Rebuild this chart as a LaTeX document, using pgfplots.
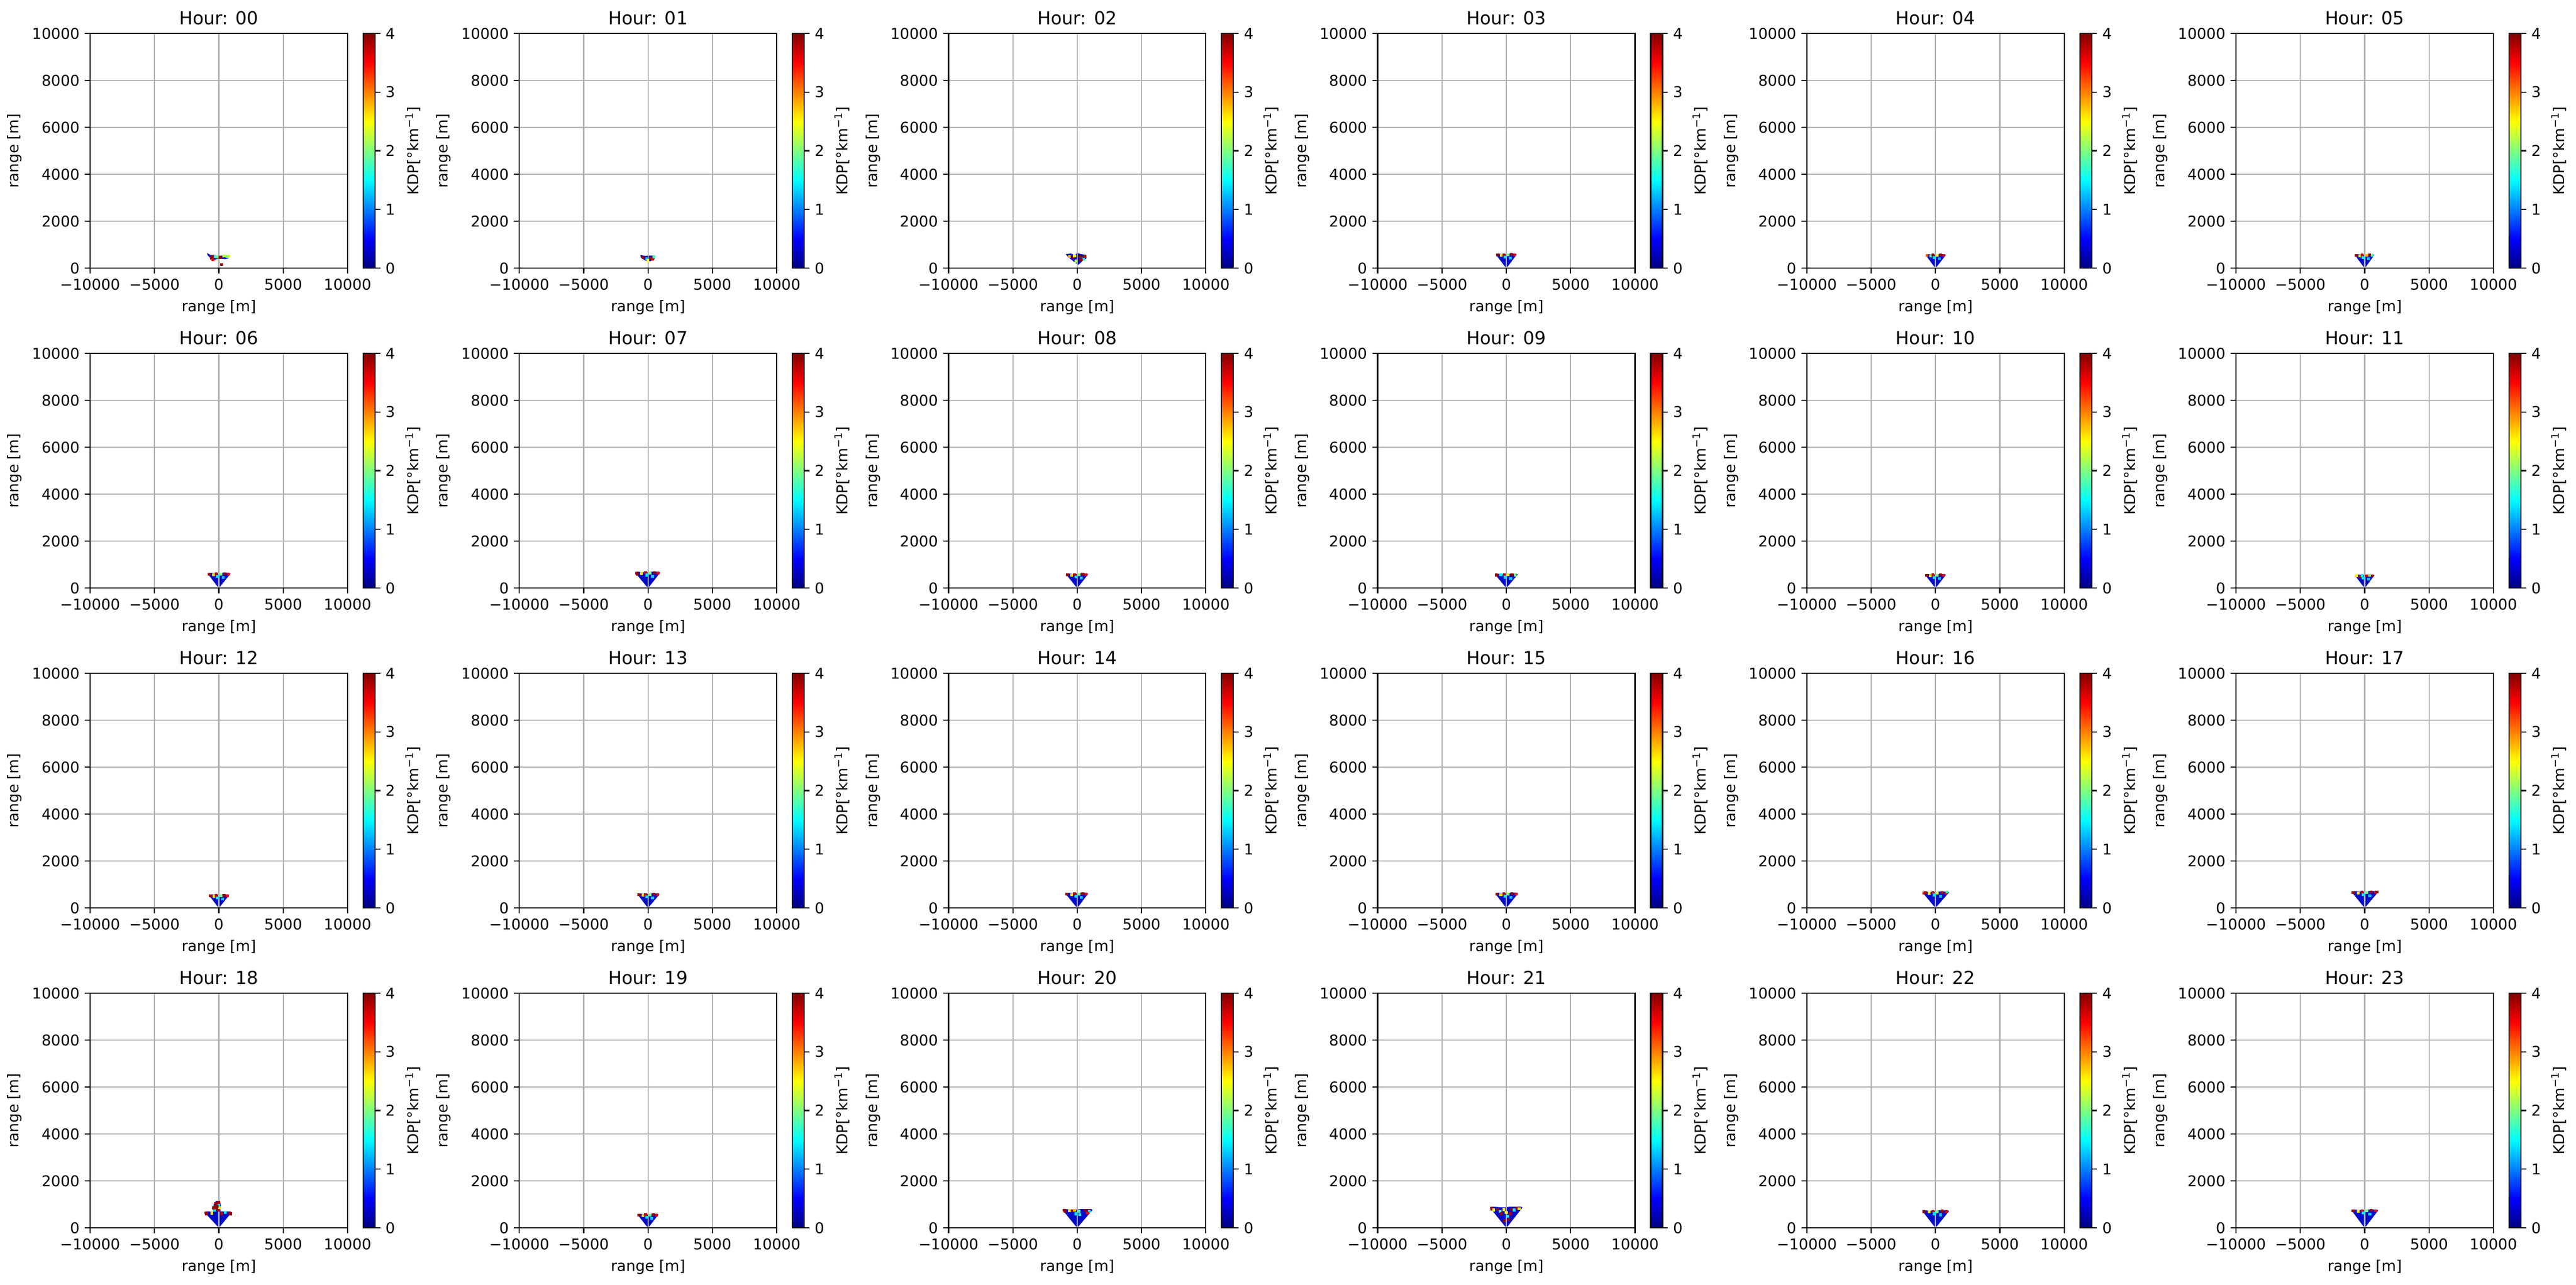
\documentclass[border=0pt]{standalone}
\usepackage{fontspec}
\setmainfont{DejaVu Sans}
\usepackage{pgfplots}
\pgfplotsset{compat=1.18}
\definecolor{mplgrid}{HTML}{B0B0B0}
\definecolor{kdpblue}{RGB}{0,12,200}
\pgfplotsset{
  every axis/.append style={
    /pgf/number format/assume math mode=true,
    tick label style={font=\fontsize{10}{12}\selectfont},
    label style={font=\fontsize{10}{12}\selectfont},
    tick align=outside,
    major tick length=3.5bp,
    tick style={black, line width=0.8bp},
    axis line style={line width=0.8bp},
  },
  kdp/.style={
    anchor=north west,
    scale only axis,
    width=172.36pt, height=157.19pt,
    xmin=-10000, xmax=10000, ymin=0, ymax=10000,
    scaled ticks=false,
    xtick={-10000,-5000,0,5000,10000},
    xticklabels={−10000,−5000,0,5000,10000},
    ytick={0,2000,4000,6000,8000,10000},
    yticklabels={0,2000,4000,6000,8000,10000},
    xtick pos=bottom, ytick pos=left,
    grid=major,
    grid style={color=mplgrid, line width=0.8bp},
    axis on top,
    every axis title/.style={font=\fontsize{12}{14}\selectfont, at={(0.5,1)}, anchor=base, yshift=6bp},
    xlabel={range [m]}, ylabel={range [m]},
    colormap/jet,
    point meta min=0, point meta max=4,
    colorbar,
    colorbar shift/.style={},
    colorbar style={
      at={(parent axis.north east)}, anchor=north west, xshift=10.48pt,
      scale only axis,
      width=7.95pt, height=157.19pt,
      title={}, xlabel={},
      ytick={0,1,2,3,4}, yticklabels={0,1,2,3,4},
      ytick pos=right, yticklabel pos=right,
      ylabel={KDP[°km\textsuperscript{−1}]},
    },
  },
}
\newcommand{\panel}[5]{%
\begin{axis}[kdp, at={({(167+795.2*#1)*0.36135pt},{-(62+593*#2)*0.36135pt})}, title={Hour: #3}]
\addplot[fill=kdpblue, draw=none, forget plot] coordinates {#4};
\addplot[scatter, only marks, mark=square*, mark size=0.75pt, point meta=explicit,
  scatter/use mapped color={draw=mapped color, fill=mapped color}, forget plot] coordinates {#5};
\end{axis}}
\begin{document}
\begin{tikzpicture}
\useasboundingbox (0,0) rectangle (1724.72pt,-860.74pt);
% row 0
\panel{0}{0}{00}{(-900,640) (-650,560) (-300,560) (0,520) (300,540) (500,560) (800,500) (750,420) (500,380) (200,400) (-200,380) (-450,330) (-700,450) (-880,560)}
{(-600,420) [3.8] (-450,360) [3.6] (-300,500) [1.5] (-150,480) [2.0] (100,460) [3.9] (400,520) [2.2] (650,500) [1.8] (750,520) [2.4] (200,150) [3.9] (-500,480) [3.9]}
\panel{1}{0}{01}{(-600,560) (-200,520) (200,540) (550,520) (500,380) (200,300) (0,280) (-300,350) (-550,450)}
{(-400,450) [3.9] (-100,400) [1.3] (200,420) [3.9] (350,380) [3.7] (0,320) [2.5] (450,480) [1.8]}
\panel{2}{0}{02}{(-880,600) (-500,620) (-200,560) (0,640) (300,600) (700,560) (730,420) (400,300) (100,140) (-200,250) (-500,380) (-850,560)}
{(-600,500) [2.8] (-300,450) [3.9] (-200,520) [2.5] (200,500) [3.9] (400,420) [3.9] (600,500) [3.8] (500,380) [1.5] (300,350) [3.9] (-100,300) [2.2]}
\panel{3}{0}{03}{(-800,570) (-650,620) (-200,590) (0,600) (300,620) (700,620) (800,580) (100,60) (0,40) (-100,60)}
{(-700,560) [3.9] (-400,540) [2.6] (-200,570) [3.8] (-100,470) [1.4] (150,560) [2.0] (400,580) [3.9] (650,560) [3.6] (300,420) [1.3]}
\panel{4}{0}{04}{(-750,550) (-600,600) (-200,570) (0,580) (300,600) (700,600) (800,560) (100,60) (0,40) (-100,60)}
{(-650,540) [3.2] (-380,520) [1.8] (-200,550) [3.9] (-100,450) [1.4] (150,540) [2.5] (400,560) [3.9] (650,540) [3.6] (300,400) [1.2]}
\panel{5}{0}{05}{(-750,550) (-600,600) (-200,570) (0,580) (300,600) (650,600) (750,560) (100,60) (0,40) (-100,60)}
{(-650,540) [3.9] (-380,520) [2.2] (-200,550) [3.6] (-100,450) [1.5] (150,540) [2.8] (380,560) [3.9] (600,540) [1.8] (280,400) [1.3]}
% row 1
\panel{0}{1}{06}{(-850,600) (-700,650) (-200,620) (0,630) (300,650) (800,650) (900,610) (100,60) (0,40) (-100,60)}
{(-750,590) [3.9] (-420,570) [2.6] (-200,600) [3.8] (-100,500) [1.4] (150,590) [2.0] (450,610) [3.9] (750,590) [3.6] (350,450) [1.3]}
\panel{1}{1}{07}{(-1000,650) (-850,700) (-200,670) (0,680) (300,700) (850,700) (950,660) (100,60) (0,40) (-100,60)}
{(-900,640) [3.9] (-850,600) [3.9] (-500,620) [2.6] (-200,650) [3.8] (-100,550) [1.4] (150,640) [2.0] (480,660) [3.9] (800,640) [3.6] (350,500) [1.3]}
\panel{2}{1}{08}{(-850,570) (-700,620) (-200,590) (0,600) (300,620) (750,620) (850,580) (100,60) (0,40) (-100,60)}
{(-750,560) [3.9] (-420,540) [2.6] (-200,570) [3.8] (-100,470) [1.4] (150,560) [2.0] (420,580) [3.9] (700,560) [3.6] (330,420) [1.3]}
\panel{3}{1}{09}{(-850,560) (-700,610) (-200,580) (0,590) (300,610) (780,610) (880,570) (100,60) (0,40) (-100,60)}
{(-780,570) [3.9] (-760,540) [3.9] (-420,560) [1.5] (-150,560) [3.8] (-100,460) [1.4] (150,560) [2.6] (440,570) [3.9] (700,550) [2.0] (330,410) [1.3]}
\panel{4}{1}{10}{(-800,550) (-650,600) (-200,570) (0,580) (300,600) (700,600) (800,560) (100,60) (0,40) (-100,60)}
{(-700,540) [3.9] (-400,520) [2.6] (-200,550) [3.8] (-100,450) [1.4] (150,540) [2.0] (400,560) [3.9] (650,540) [3.6] (300,400) [1.3]}
\panel{5}{1}{11}{(-750,530) (-600,580) (-200,550) (0,560) (300,580) (650,580) (750,540) (100,60) (0,40) (-100,60)}
{(-650,520) [2.6] (-380,500) [3.9] (-200,530) [1.5] (-100,430) [1.4] (150,520) [3.8] (380,540) [2.0] (600,520) [3.9] (280,380) [1.3]}
% row 2
\panel{0}{2}{12}{(-750,530) (-600,580) (-200,550) (0,560) (300,580) (700,580) (800,540) (100,60) (0,40) (-100,60)}
{(-650,520) [3.9] (-380,500) [2.6] (-200,530) [3.8] (-100,430) [1.4] (150,520) [2.0] (400,540) [3.9] (650,520) [3.6] (300,380) [1.3]}
\panel{1}{2}{13}{(-800,570) (-650,620) (-200,590) (0,600) (300,620) (800,620) (900,580) (100,60) (0,40) (-100,60)}
{(-700,560) [3.9] (-400,540) [2.6] (-200,570) [3.8] (-100,470) [1.4] (150,560) [2.0] (450,580) [3.9] (750,560) [3.6] (350,420) [1.3]}
\panel{2}{2}{14}{(-900,600) (-750,650) (-200,620) (0,630) (300,650) (750,650) (850,610) (100,60) (0,40) (-100,60)}
{(-800,590) [3.9] (-450,570) [2.6] (-200,600) [3.8] (-100,500) [1.4] (150,590) [2.0] (420,610) [3.9] (700,590) [3.6] (330,450) [1.3]}
\panel{3}{2}{15}{(-850,600) (-700,650) (-200,620) (0,630) (300,650) (800,650) (900,610) (100,60) (0,40) (-100,60)}
{(-750,590) [3.9] (-420,570) [2.6] (-200,600) [3.8] (-100,500) [1.4] (150,590) [2.0] (450,610) [3.9] (750,590) [3.6] (350,450) [1.3]}
\panel{4}{2}{16}{(-1000,650) (-850,700) (-200,670) (0,680) (300,700) (950,700) (1050,660) (100,60) (0,40) (-100,60)}
{(-900,640) [3.6] (-800,660) [3.9] (-500,620) [2.6] (-200,650) [3.8] (-100,550) [1.4] (150,640) [2.4] (500,660) [3.9] (800,640) [3.6] (900,670) [1.8] (400,500) [1.3]}
\panel{5}{2}{17}{(-1000,670) (-850,720) (-200,690) (0,700) (300,720) (950,720) (1050,680) (100,60) (0,40) (-100,60)}
{(-900,660) [3.9] (-500,640) [2.6] (-200,670) [3.8] (-100,570) [1.4] (150,660) [2.0] (500,680) [3.9] (850,660) [3.6] (950,680) [3.9] (400,520) [1.3]}
% row 3
\panel{0}{3}{18}{(-1100,650) (-950,700) (-450,690) (-450,800) (-400,1000) (-200,1150) (100,1130) (150,950) (120,700) (300,700) (900,700) (1000,660) (100,60) (0,40) (-100,60)}
{(-1000,640) [3.9] (-950,600) [3.9] (-550,620) [2.6] (850,640) [3.9] (900,600) [3.9] (500,650) [1.5] (200,600) [3.8] (-300,900) [3.9] (-100,1000) [3.9] (0,1100) [3.8] (-200,800) [3.9] (50,850) [2.6] (-350,750) [1.5] (-50,750) [3.9] (-250,1050) [3.9] (-400,850) [3.9] (0,950) [1.5] (-150,900) [3.9]}
\panel{1}{3}{19}{(-800,550) (-650,600) (-200,570) (0,580) (300,600) (700,600) (800,560) (100,60) (0,40) (-100,60)}
{(-700,540) [3.9] (-400,520) [2.6] (-200,550) [3.8] (-100,450) [1.4] (150,540) [2.0] (400,560) [3.9] (650,540) [3.6] (300,400) [1.3]}
\panel{2}{3}{20}{(-1120,750) (-970,800) (-200,770) (0,780) (300,800) (1090,800) (1190,760) (100,60) (0,40) (-100,60)}
{(-1000,740) [3.9] (-950,700) [3.9] (-600,730) [2.6] (-400,720) [3.9] (-200,750) [2.8] (-100,600) [1.4] (150,700) [1.8] (200,560) [1.5] (600,740) [3.9] (900,740) [3.9] (950,700) [1.5] (800,640) [3.6]}
\panel{3}{3}{21}{(-1260,850) (-1110,900) (-200,870) (0,880) (300,900) (1150,900) (1250,860) (100,60) (0,40) (-100,60)}
{(-1150,840) [3.9] (-1100,800) [3.9] (-1000,760) [2.4] (-700,800) [3.9] (-500,700) [1.8] (-400,600) [3.9] (-200,780) [2.6] (0,650) [2.5] (100,500) [1.6] (200,350) [3.9] (400,800) [3.9] (600,760) [1.4] (800,840) [3.9] (1000,820) [2.6] (300,600) [3.8] (-150,300) [3.9]}
\panel{4}{3}{22}{(-1000,700) (-850,750) (-200,720) (0,730) (300,750) (950,750) (1050,710) (100,60) (0,40) (-100,60)}
{(-900,690) [3.9] (-500,670) [2.6] (-200,700) [3.8] (-100,600) [1.4] (150,690) [2.0] (500,710) [3.9] (850,690) [3.6] (400,550) [1.3]}
\panel{5}{3}{23}{(-1000,730) (-850,780) (-200,750) (0,760) (300,780) (950,780) (1050,740) (100,60) (0,40) (-100,60)}
{(-900,720) [3.9] (-500,700) [2.6] (-200,730) [3.8] (-100,630) [1.4] (150,720) [2.0] (500,740) [3.9] (850,720) [3.6] (400,580) [1.3]}
\end{tikzpicture}
\end{document}
